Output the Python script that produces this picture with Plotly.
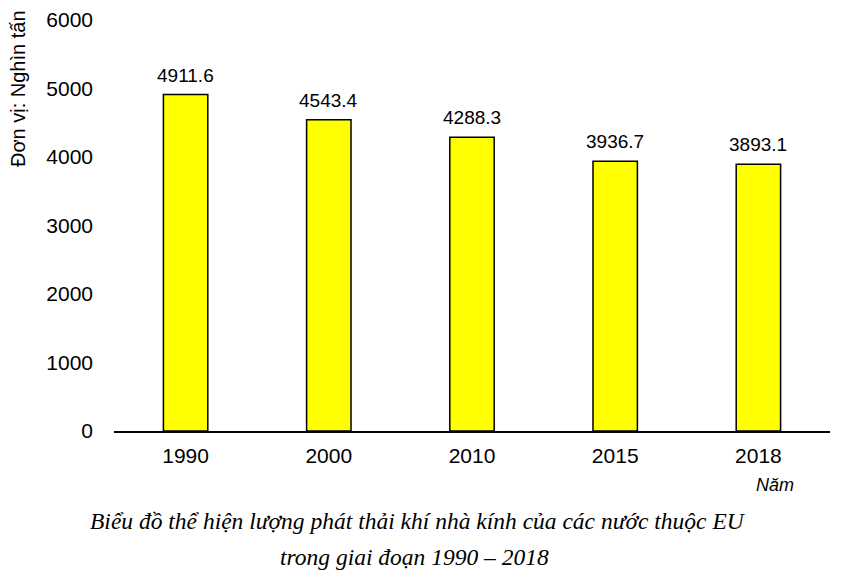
import plotly.graph_objects as go

years = ["1990", "2000", "2010", "2015", "2018"]
values = [4911.6, 4543.4, 4288.3, 3936.7, 3893.1]
value_labels = ["4911.6", "4543.4", "4288.3", "3936.7", "3893.1"]
y_ticks = [0, 1000, 2000, 3000, 4000, 5000, 6000]

W, H = 847, 573
OFF = 8  # page body margin offset
L, R, T, B = 114 - OFF, 17 + OFF, 20 - OFF, 142 + OFF
pw = W - L - R
ph = H - T - B

fig = go.Figure()
fig.add_trace(go.Bar(
    x=years, y=values,
    marker=dict(color="#FFFF00", line=dict(color="black", width=1.5)),
    width=0.31,
))

def px_x(p):
    return (p - OFF - L) / pw

def px_y(p):
    return (H - B - (p - OFF)) / ph

# category axis: annotation x uses the category index
annotations = [
    dict(x=i, y=v, text=t, xref="x", yref="y", showarrow=False,
         yanchor="bottom", yshift=7, font=dict(size=19))
    for i, (v, t) in enumerate(zip(values, value_labels))
]
annotations += [
    dict(text="Đơn vị: Nghìn tấn", textangle=-90, xref="paper", yref="paper",
         x=px_x(18), y=px_y(89), xanchor="center", yanchor="middle",
         showarrow=False, font=dict(size=20)),
    dict(text="<i>Năm</i>", xref="paper", yref="paper",
         x=px_x(775), y=px_y(485), xanchor="center", yanchor="middle",
         showarrow=False, font=dict(size=18)),
    dict(text="<i>Biểu đồ thể hiện lượng phát thải khí nhà kính của các nước thuộc EU</i>",
         xref="paper", yref="paper", x=px_x(418), y=px_y(521),
         xanchor="center", yanchor="middle", showarrow=False,
         font=dict(family="Liberation Serif", size=23.5)),
    dict(text="<i>trong giai đoạn 1990 – 2018</i>",
         xref="paper", yref="paper", x=px_x(414), y=px_y(557),
         xanchor="center", yanchor="middle", showarrow=False,
         font=dict(family="Liberation Serif", size=23.5)),
]

fig.update_layout(
    width=W, height=H,
    margin=dict(l=L, r=R, t=T, b=B),
    plot_bgcolor="white", paper_bgcolor="white",
    showlegend=False,
    font=dict(family="Liberation Sans", color="black"),
    xaxis=dict(type="category", showline=True, linecolor="black", linewidth=1.5,
               showgrid=False, ticks="", tickfont=dict(size=21), ticklabelstandoff=5,
               automargin=False),
    yaxis=dict(range=[0, 6000], tickvals=y_ticks, showgrid=False, showline=False,
               zeroline=False, ticks="", tickfont=dict(size=21), ticklabelstandoff=20,
               automargin=False),
    annotations=annotations,
)

fig.write_html("out.html")
